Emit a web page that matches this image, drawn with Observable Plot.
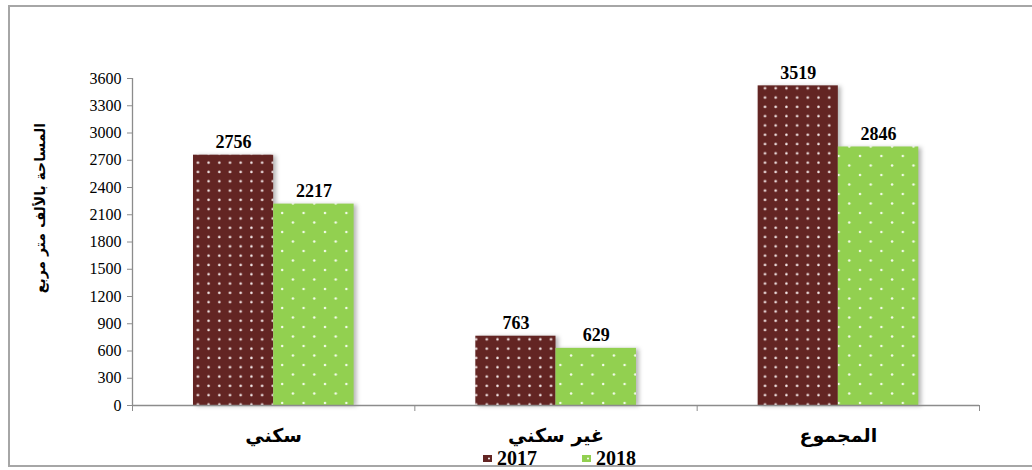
<!DOCTYPE html>
<html><head><meta charset="utf-8">
<script src="https://cdn.jsdelivr.net/npm/d3@7"></script>
<script src="https://cdn.jsdelivr.net/npm/@observablehq/plot@0.6"></script>
<style>
body{margin:0;background:#fff;}
#wrap{position:relative;width:1032px;height:470px;overflow:hidden;}
#border{position:absolute;left:8px;top:5px;width:1040px;height:462px;border:2px solid #a6a6a6;box-sizing:border-box;pointer-events:none;}
#chart{position:absolute;left:0;top:0;}
#legend{position:absolute;top:448px;left:0;width:1119px;display:flex;justify-content:center;gap:45px;font-family:"Liberation Serif",serif;font-weight:bold;font-size:20px;line-height:20px;}
#legend .item{display:flex;align-items:center;gap:5px;}
#ytitle{position:absolute;left:40px;top:208px;transform:translate(-50%,-50%) rotate(-90deg);white-space:nowrap;font:bold 14px "DejaVu Sans",sans-serif;color:#000;}
g[aria-label="rect"] rect{filter:drop-shadow(3px 1px 2px rgba(0,0,0,0.28));}
</style></head>
<body><div id="wrap"><div id="chart"></div><div id="ytitle"></div><div id="border"></div><div id="legend"></div></div>
<script>
const categories = ["سكني", "غير سكني", "المجموع"];
const years = ["2017", "2018"];
const v2017 = [2756, 763, 3519];
const v2018 = [2217, 629, 2846];
const yTicks = [0, 300, 600, 900, 1200, 1500, 1800, 2100, 2400, 2700, 3000, 3300, 3600];
const yTitle = "المساحة بالألف متر مربع";
const colors = {"2017": "#632523", "2018": "#92D050"};

const rows = [];
categories.forEach((c, i) => {
  rows.push({cat: c, i, year: "2017", value: v2017[i], x1: i + 0.216, x2: i + 0.5});
  rows.push({cat: c, i, year: "2018", value: v2018[i], x1: i + 0.5, x2: i + 0.785});
});
const cats = categories.map((c, i) => ({cat: c, x: i + 0.5}));

function defs() {
  const svg = d3.create("svg:g");
  const d = svg.append("defs");
  const p1 = d.append("pattern").attr("id", "p2017").attr("patternUnits", "userSpaceOnUse")
    .attr("width", 10.7).attr("height", 9.3);
  p1.append("rect").attr("width", 10.7).attr("height", 9.3).attr("fill", colors["2017"]);
  p1.append("circle").attr("cx", 5.3).attr("cy", 4.6).attr("r", 1.25).attr("fill", "#f4e8e8");
  const p2 = d.append("pattern").attr("id", "p2018").attr("patternUnits", "userSpaceOnUse")
    .attr("width", 21.4).attr("height", 19);
  p2.append("rect").attr("width", 21.4).attr("height", 19).attr("fill", colors["2018"]);
  p2.append("circle").attr("cx", 4).attr("cy", 4).attr("r", 1.25).attr("fill", "#f2fbe8");
  p2.append("circle").attr("cx", 14.7).attr("cy", 13.5).attr("r", 1.25).attr("fill", "#f2fbe8");
  return svg.node();
}

const serif = "'Liberation Serif', 'Times New Roman', serif";
const arab = "'DejaVu Sans', sans-serif";

const chart = Plot.plot({
  width: 1032, height: 470,
  marginLeft: 132, marginRight: 53, marginTop: 78, marginBottom: 65,
  style: {background: "transparent", overflow: "visible", fontFamily: serif, fontSize: "16px"},
  x: {type: "linear", domain: [0, 3], axis: null},
  y: {domain: [0, 3600], axis: null},
  marks: [
    defs,
    Plot.rectY(rows.filter(d => d.year === "2017"), {x1: "x1", x2: "x2", y: "value", fill: "url(#p2017)"}),
    Plot.rectY(rows.filter(d => d.year === "2018"), {x1: "x1", x2: "x2", y: "value", fill: "url(#p2018)"}),
    Plot.ruleY([0], {stroke: "#8c8c8c", strokeWidth: 1.3}),
    Plot.ruleX([0], {y1: 0, y2: 3600, stroke: "#8c8c8c", strokeWidth: 1.3}),
    Plot.axisY({ticks: yTicks, tickFormat: d => String(d), tickSize: 5, tickPadding: 6, fontSize: 16, stroke: "#8c8c8c", color: "#000", label: null}),
    Plot.axisX({ticks: [0, 1, 2, 3], tickSize: 6, tickFormat: () => "", stroke: "#8c8c8c", label: null}),
    Plot.text(cats, {x: "x", y: 0, text: "cat", dy: 30, fontSize: 19, fontWeight: "bold", fontFamily: arab, fill: "#000"}),
    Plot.text(rows, {x: d => (d.x1 + d.x2) / 2, y: "value", text: d => String(d.value), lineAnchor: "bottom", dy: -7, fontSize: 18, fontWeight: "bold", fontFamily: serif, fill: "#000"})
  ]
});
document.getElementById("chart").appendChild(chart);
document.getElementById("ytitle").textContent = yTitle;

const legend = document.getElementById("legend");
years.forEach(y => {
  const item = document.createElement("div");
  item.className = "item";
  item.innerHTML = `<svg width="9" height="7"><rect width="9" height="7" fill="${colors[y]}"/><circle cx="6" cy="3.5" r="1" fill="#fff"/></svg><span>${y}</span>`;
  legend.appendChild(item);
});
</script>
</body></html>
